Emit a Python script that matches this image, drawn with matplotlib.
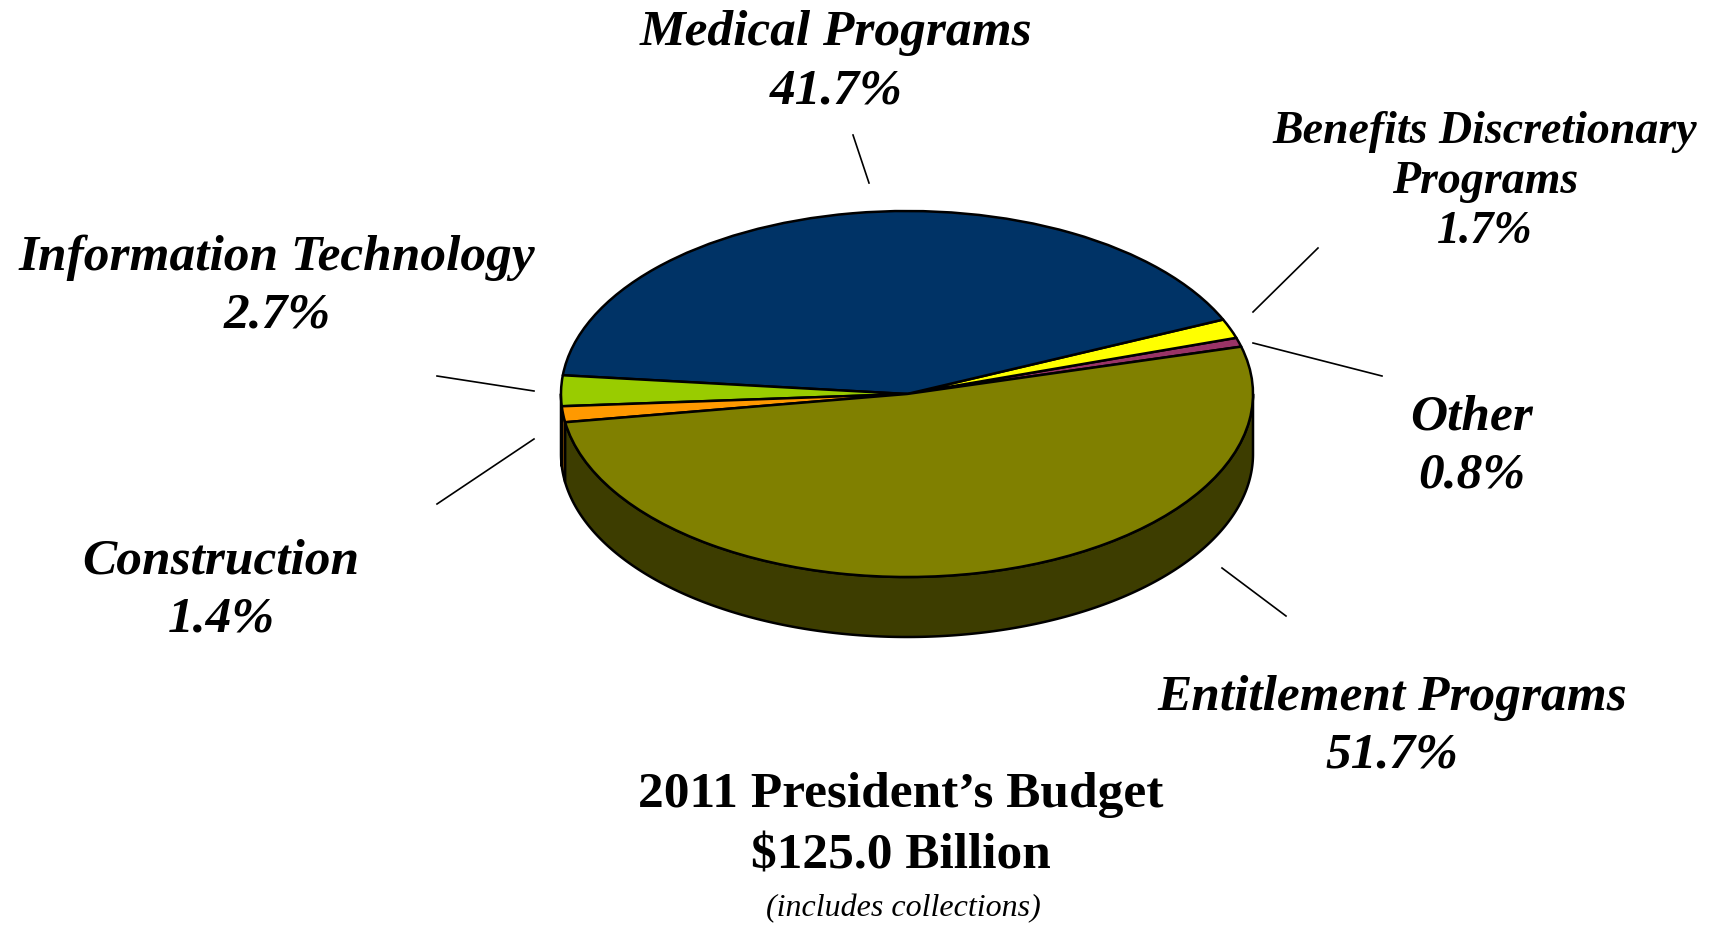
import matplotlib
matplotlib.use("Agg")
import matplotlib.pyplot as plt
import numpy as np
from matplotlib.patches import Polygon
from matplotlib.colors import to_rgb

# ---- data ----
categories = ["Other", "Benefits Discretionary Programs", "Medical Programs",
              "Information Technology", "Construction", "Entitlement Programs"]
shares = [0.8, 1.7, 41.7, 2.7, 1.4, 51.7]
colors = ["#993366", "#FFFF00", "#003366", "#99CC00", "#FF9900", "#808000"]
name_lines = {
    "Other": ["Other"],
    "Benefits Discretionary Programs": ["Benefits Discretionary", "Programs"],
    "Medical Programs": ["Medical Programs"],
    "Information Technology": ["Information Technology"],
    "Construction": ["Construction"],
    "Entitlement Programs": ["Entitlement Programs"],
}
title_lines = ["2011 President\u2019s Budget", "$125.0 Billion"]
subtitle = "(includes collections)"

# ---- layout (pixels) ----
W, H = 1713, 934
cx, cy, rx, ry, depth = 907, 394, 346, 183, 60
label_pos = {  # x center, first baseline, line step, fontsize
    "Other": (1472, 430, 57, 37),
    "Benefits Discretionary Programs": (1485, 143, 50, 33),
    "Medical Programs": (836, 45, 58, 37),
    "Information Technology": (277, 270, 57, 37),
    "Construction": (221, 574, 58, 37),
    "Entitlement Programs": (1392, 710, 57, 37),
}
leaders = {
    "Other": ((1253, 343), (1382, 376)),
    "Benefits Discretionary Programs": ((1253, 312), (1318, 248)),
    "Medical Programs": ((853, 135), (869, 183)),
    "Information Technology": ((437, 376), (534, 391)),
    "Construction": ((437, 504), (534, 439)),
    "Entitlement Programs": ((1222, 568), (1286, 616)),
}

serif = ["Liberation Serif", "DejaVu Serif"]

fig = plt.figure(figsize=(W / 100, H / 100), dpi=100)
fig.patch.set_facecolor("white")
bg = fig.add_axes([0, 0, 1, 1])
bg.set_xlim(0, W)
bg.set_ylim(H, 0)
bg.axis("off")

pax = fig.add_axes([(cx - rx) / W, 1 - (cy + ry) / H, 2 * rx / W, 2 * ry / H])
pax.set_zorder(2)
wedges, _ = pax.pie(shares, colors=colors, startangle=15, counterclock=True,
                    radius=1,
                    wedgeprops=dict(edgecolor="black", linewidth=1.8,
                                    joinstyle="round"))
pax.set_aspect("auto")
pax.set_xlim(-1, 1)
pax.set_ylim(-1, 1)
pax.axis("off")

d = depth / ry
for w, c in zip(wedges, colors):
    t1, t2 = w.theta1, w.theta2
    side = tuple(v * 0.48 for v in to_rgb(c))
    for k in range(-1, 3):
        a = max(t1, 180 + 360 * k)
        b = min(t2, 360 + 360 * k)
        if b > a:
            t = np.radians(np.linspace(a, b, 300))
            top = np.column_stack([np.cos(t), np.sin(t)])
            bot = np.column_stack([np.cos(t[::-1]), np.sin(t[::-1]) - d])
            pax.add_patch(Polygon(np.vstack([top, bot]), closed=True,
                                  facecolor=side, edgecolor="black",
                                  linewidth=1.8, joinstyle="round",
                                  zorder=0.5, clip_on=False))
for w in wedges:
    w.set_clip_on(False)

# labels
for cat, v in zip(categories, shares):
    x, y0, step, fs = label_pos[cat]
    lines = name_lines[cat] + [f"{v:.1f}%"]
    for i, ln in enumerate(lines):
        bg.text(x, y0 + i * step, ln, ha="center", va="baseline",
                fontsize=fs, fontweight="bold", fontstyle="italic",
                family=serif)
    (x1, y1), (x2, y2) = leaders[cat]
    bg.plot([x1, x2], [y1, y2], color="black", linewidth=1.2)

# title
bg.text(901, 807, title_lines[0], ha="center", va="baseline", fontsize=37,
        fontweight="bold", family=serif)
bg.text(901, 869, title_lines[1], ha="center", va="baseline", fontsize=37,
        fontweight="bold", family=serif)
bg.text(903, 916, subtitle, ha="center", va="baseline", fontsize=23,
        fontstyle="italic", family=serif)

fig.savefig("out.png", dpi=100, facecolor="white")
